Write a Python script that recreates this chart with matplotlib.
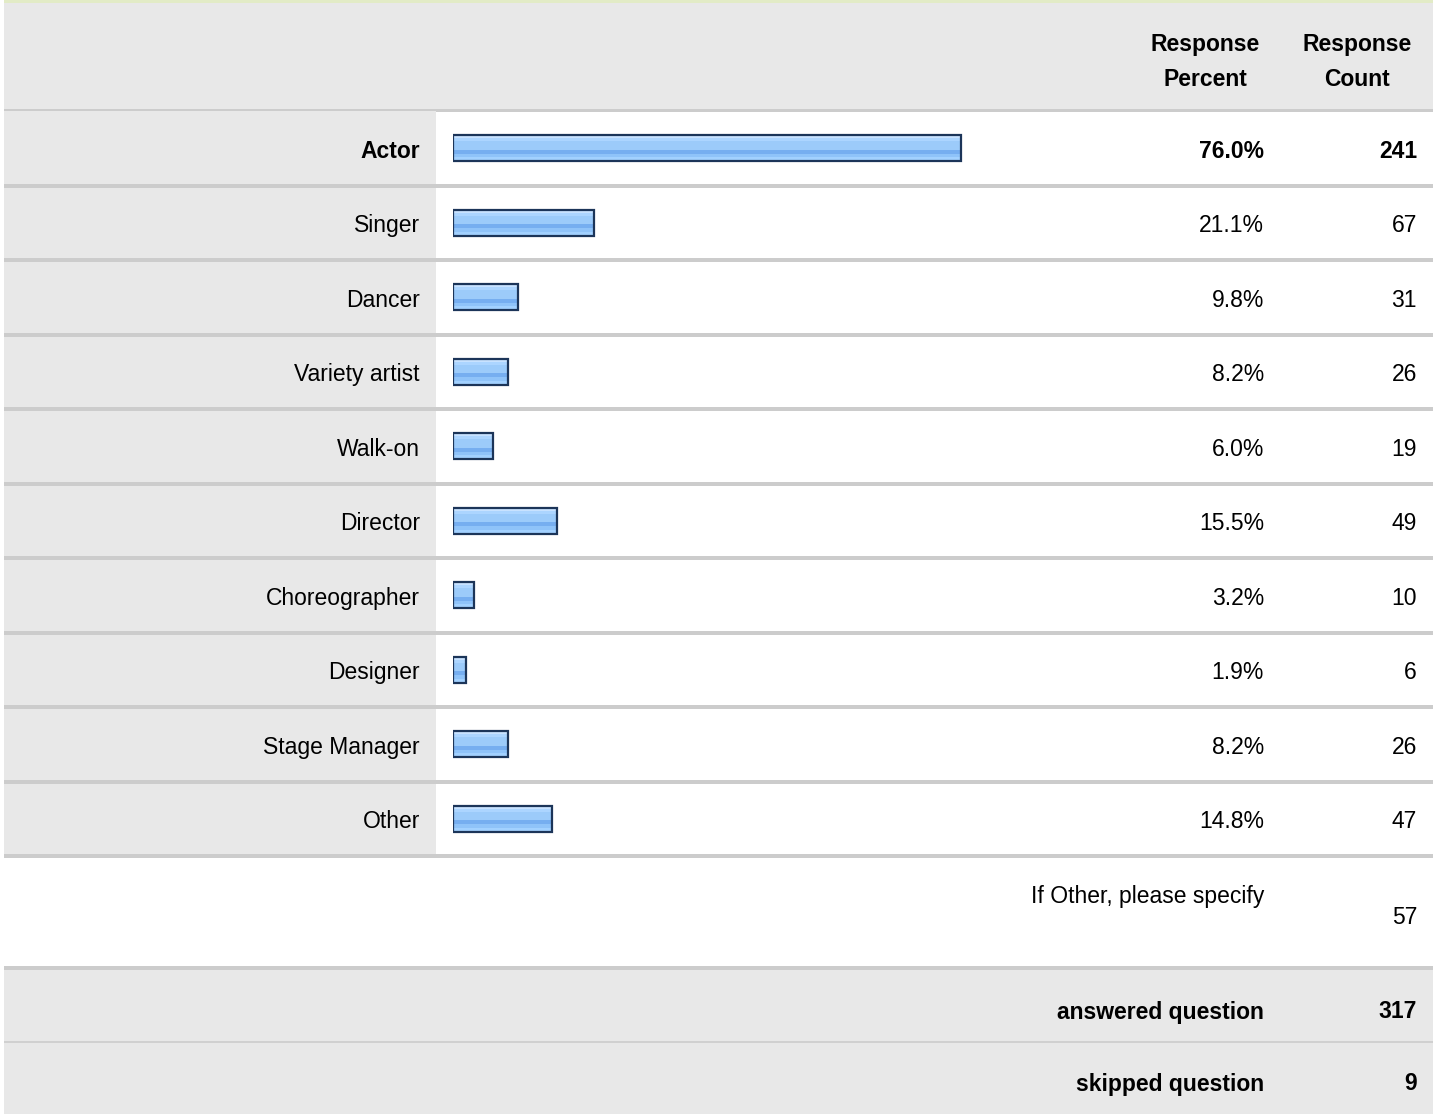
import matplotlib
matplotlib.use("Agg")
import matplotlib.pyplot as plt
from matplotlib.patches import Rectangle
from matplotlib import transforms

plt.rcParams['font.family'] = ['Liberation Sans', 'DejaVu Sans']

# ---- data ----
categories = ["Actor", "Singer", "Dancer", "Variety artist", "Walk-on", "Director",
              "Choreographer", "Designer", "Stage Manager", "Other"]
percents = [76.0, 21.1, 9.8, 8.2, 6.0, 15.5, 3.2, 1.9, 8.2, 14.8]
counts = [241, 67, 31, 26, 19, 49, 10, 6, 26, 47]
header_percent = "Response\nPercent"
header_count = "Response\nCount"
other_label = "If Other, please specify"
other_count = 57
answered_label = "answered question"
answered = 317
skipped_label = "skipped question"
skipped = 9

W, H = 1440, 1114
fig = plt.figure(figsize=(W / 100, H / 100), dpi=100)
fig.patch.set_facecolor("white")

ax0 = fig.add_axes([0, 0, 1, 1])
ax0.set_xlim(0, W)
ax0.set_ylim(H, 0)
ax0.axis("off")

GRAY = "#e8e8e8"
SEP = "#cccccc"
L, R = 4, 1433
row_top, row_h = 111, 74.5
n = len(categories)
rows_bottom = row_top + n * row_h

# top thin border
ax0.add_patch(Rectangle((L, 0), R - L, 3, color="#e2ebc6", lw=0))
# header
ax0.add_patch(Rectangle((L, 3), R - L, row_top - 3, color=GRAY, lw=0))
ax0.add_patch(Rectangle((L, row_top - 2), R - L, 3, color=SEP, lw=0))
# rows background
ax0.add_patch(Rectangle((L, row_top), 436 - L, rows_bottom - row_top, color=GRAY, lw=0))
for i in range(n):
    yb = row_top + (i + 1) * row_h
    ax0.add_patch(Rectangle((L, yb - 2), R - L, 4, color=SEP, lw=0, zorder=3))
# footer rows
ax0.add_patch(Rectangle((L, 966), R - L, 4, color=SEP, lw=0))
ax0.add_patch(Rectangle((L, 970), R - L, H - 970, color=GRAY, lw=0))
ax0.add_patch(Rectangle((L, 1041), R - L, 2, color="#d0d0d0", lw=0))

FS = 16.5
xpct, xcnt = 1264, 1417
ax0.text(1205, 62, header_percent, ha="center", va="center", fontsize=FS,
         fontweight="bold", linespacing=1.7)
ax0.text(1357, 62, header_count, ha="center", va="center", fontsize=FS,
         fontweight="bold", linespacing=1.7)

# bar axes
bar_left_px, bar_w_px = 453, 668
axb = fig.add_axes([bar_left_px / W, 1 - rows_bottom / H, bar_w_px / W, (rows_bottom - row_top) / H])
axb.set_xlim(0, 100)
axb.set_ylim(n - 0.5, -0.5)
axb.axis("off")
axb.patch.set_alpha(0)

ypos = list(range(n))
bh = 0.35
# gradient bands (fraction of bar height from top, fraction height, colour)
bands = [(0.0, 1.0, "#9ccbfa"),
         (0.0, 0.12, "#c8e2ff"),
         (0.12, 0.12, "#acd5ff"),
         (0.55, 0.17, "#76aef0"),
         (0.72, 0.12, "#8fc3f9"),
         (0.84, 0.16, "#a2d1ff")]
for top, frac, col in bands:
    yc = [y - bh / 2 + bh * (top + frac / 2) for y in ypos]
    axb.barh(yc, percents, height=bh * frac, color=col, lw=0, zorder=2)
axb.barh(ypos, percents, height=bh, facecolor="none", edgecolor="#1c3559", lw=1.6, zorder=3)

tr = transforms.blended_transform_factory(ax0.transData, axb.transData)
tr = transforms.offset_copy(tr, fig=fig, x=0, y=-3, units="dots")
for i, (c, p, k) in enumerate(zip(categories, percents, counts)):
    fw = "bold" if i == 0 else "normal"
    ax0.text(420, i, c, transform=tr, ha="right", va="center", fontsize=FS, fontweight=fw)
    ax0.text(xpct, i, f"{p:.1f}%", transform=tr, ha="right", va="center", fontsize=FS, fontweight=fw)
    ax0.text(xcnt, i, f"{k}", transform=tr, ha="right", va="center", fontsize=FS, fontweight=fw)

ax0.text(xpct, 897, other_label, ha="right", va="center", fontsize=FS)
ax0.text(xcnt, 917, f"{other_count}", ha="right", va="center", fontsize=FS)
ax0.text(xpct, 1012, answered_label, ha="right", va="center", fontsize=FS, fontweight="bold")
ax0.text(xcnt, 1012, f"{answered}", ha="right", va="center", fontsize=FS, fontweight="bold")
ax0.text(xpct, 1084, skipped_label, ha="right", va="center", fontsize=FS, fontweight="bold")
ax0.text(xcnt, 1084, f"{skipped}", ha="right", va="center", fontsize=FS, fontweight="bold")

fig.savefig("out.png", dpi=100)
